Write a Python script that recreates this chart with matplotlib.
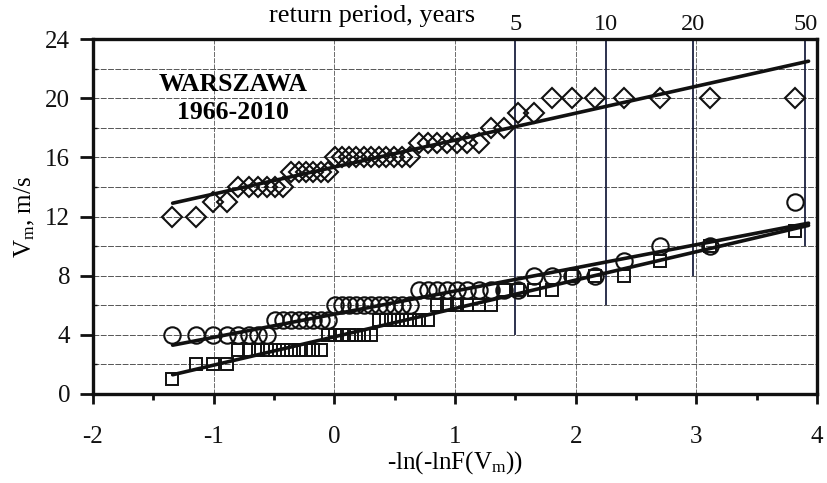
import numpy as np
import matplotlib
matplotlib.use("Agg")
import matplotlib.pyplot as plt
from matplotlib.ticker import FixedLocator, MultipleLocator

plt.rcParams['font.family'] = ['Liberation Serif', 'DejaVu Serif']
plt.rcParams['mathtext.fontset'] = 'custom'
plt.rcParams['mathtext.rm'] = 'Liberation Serif'
plt.rcParams['mathtext.it'] = 'Liberation Serif:italic'

# Gumbel reduced variate of each plotting position (45 years, 1966-2010)
reduced_variate = [-1.343, -1.143, -1.004, -0.893, -0.797, -0.711, -0.633, -0.559,
                   -0.489, -0.423, -0.358, -0.295, -0.234, -0.174, -0.114, -0.055,
                   0.005, 0.064, 0.123, 0.183, 0.243, 0.304, 0.367, 0.430, 0.495,
                   0.561, 0.630, 0.700, 0.774, 0.850, 0.930, 1.014, 1.102, 1.196,
                   1.297, 1.406, 1.525, 1.655, 1.801, 1.968, 2.162, 2.397, 2.697,
                   3.113, 3.818]

series_diamond = [12, 12, 13, 13, 14, 14, 14, 14, 14, 14, 15, 15, 15, 15, 15, 15,
                  16, 16, 16, 16, 16, 16, 16, 16, 16, 16, 16, 17, 17, 17, 17, 17,
                  17, 17, 18, 18, 19, 19, 20, 20, 20, 20, 20, 20, 20]
series_circle = [4, 4, 4, 4, 4, 4, 4, 4, 5, 5, 5, 5, 5, 5, 5, 5, 6, 6, 6, 6, 6, 6,
                 6, 6, 6, 6, 6, 7, 7, 7, 7, 7, 7, 7, 7, 7, 7, 8, 8, 8, 8, 9, 10, 10, 13]
series_square = [1, 2, 2, 2, 3, 3, 3, 3, 3, 3, 3, 3, 3, 3, 3, 4, 4, 4, 4, 4, 4, 4,
                 5, 5, 5, 5, 5, 5, 5, 6, 6, 6, 6, 6, 6, 7, 7, 7, 7, 8, 8, 8, 9, 10, 11]

# fitted straight lines (end points)
fit_x = [-1.34, 3.93]
fit_diamond = [12.9, 22.5]
fit_circle = [3.3, 11.55]
fit_square = [1.3, 11.4]

# return periods and the lower end of their marker lines
return_periods = [5, 10, 20, 50]
return_line_bottom = [4, 6, 8, 10]

title_lines = ["WARSZAWA", "1966-2010"]


def T_to_x(T):
    T = np.asarray(T, dtype=float)
    with np.errstate(all='ignore'):
        return -np.log(-np.log(1.0 - 1.0 / T))


def x_to_T(x):
    x = np.asarray(x, dtype=float)
    with np.errstate(all='ignore'):
        return 1.0 / (1.0 - np.exp(-np.exp(-x)))


fig = plt.figure(figsize=(8.28, 4.83), dpi=100)
ax = fig.add_axes([93 / 828, 1 - 394 / 483, (817 - 93) / 828, (394 - 39) / 483])

ax.set_xlim(-2, 4)
ax.set_ylim(0, 24)

# grid
ax.xaxis.set_major_locator(MultipleLocator(1))
ax.xaxis.set_minor_locator(MultipleLocator(0.5))
ax.yaxis.set_major_locator(MultipleLocator(4))
ax.yaxis.set_minor_locator(MultipleLocator(2))
for yv in np.arange(2, 24, 2):
    ax.axhline(yv, color='#555555', lw=0.7, ls=(0, (6, 1.5)), zorder=1)
for xv in [-1, 0, 1, 2, 3]:
    ax.axvline(xv, color='#555555', lw=0.6, ls=(0, (6, 1.5)), zorder=1)

# return-period lines
rp_x = T_to_x(return_periods)
ax.vlines(rp_x, return_line_bottom, 24, color='#1b2140', lw=1.3, zorder=1.5)

ink = '#111111'
ax.plot(reduced_variate, series_diamond, ls='none', marker='D', ms=9.8, mfc='none',
        mec=ink, mew=1.5, zorder=2.5)
ax.plot(reduced_variate, series_circle, ls='none', marker='o', ms=11.8, mfc='none',
        mec=ink, mew=1.5, zorder=2.5)
ax.plot(reduced_variate, series_square, ls='none', marker='s', ms=9.2, mfc='none',
        mec=ink, mew=1.4, zorder=2.5)

for fy in (fit_diamond, fit_circle, fit_square):
    ax.plot(fit_x, fy, color=ink, lw=2.6, solid_capstyle='round', zorder=3)

# spines and ticks
for s in ax.spines.values():
    s.set_linewidth(2.4)
    s.set_color(ink)
ax.tick_params(axis='x', which='major', direction='out', length=7, width=2,
               labelsize=18, pad=16, colors=ink)
ax.tick_params(axis='x', which='minor', direction='out', length=4, width=2, colors=ink)
ax.tick_params(axis='y', which='major', direction='out', length=9.5, width=2,
               labelsize=18, pad=7, colors=ink)
ax.tick_params(axis='y', which='minor', direction='in', length=3, width=1, colors=ink)
ax.set_xticks([-2, -1, 0, 1, 2, 3, 4])
ax.set_xticklabels(['-2', '-1', '0', '1', '2', '3', '4'])

ax.set_xlabel(r'-ln(-lnF(V$_{\mathrm{m}}$))', fontsize=18, labelpad=1)
ax.set_ylabel(r'V$_{\mathrm{m}}$, m/s', fontsize=18, labelpad=6)

# top axis: return period
sec = ax.secondary_xaxis('top', functions=(x_to_T, T_to_x))
sec.xaxis.set_major_locator(FixedLocator(return_periods))
sec.xaxis.set_minor_locator(FixedLocator([]))
sec.set_xticklabels([str(t) for t in return_periods])
sec.tick_params(axis='x', length=0, labelsize=17.5, pad=3, colors=ink)
sec.spines['top'].set_visible(False)
ax.text(0.31, 25.55, 'return period, years', fontsize=19, ha='center', va='center',
        clip_on=False)

ax.text(-0.84, 20.9, title_lines[0], fontsize=18.5, fontweight='bold',
        ha='center', va='center')
ax.text(-0.84, 19.0, title_lines[1], fontsize=18.5, fontweight='bold',
        ha='center', va='center')

fig.savefig('out.png', dpi=100, facecolor='white')
